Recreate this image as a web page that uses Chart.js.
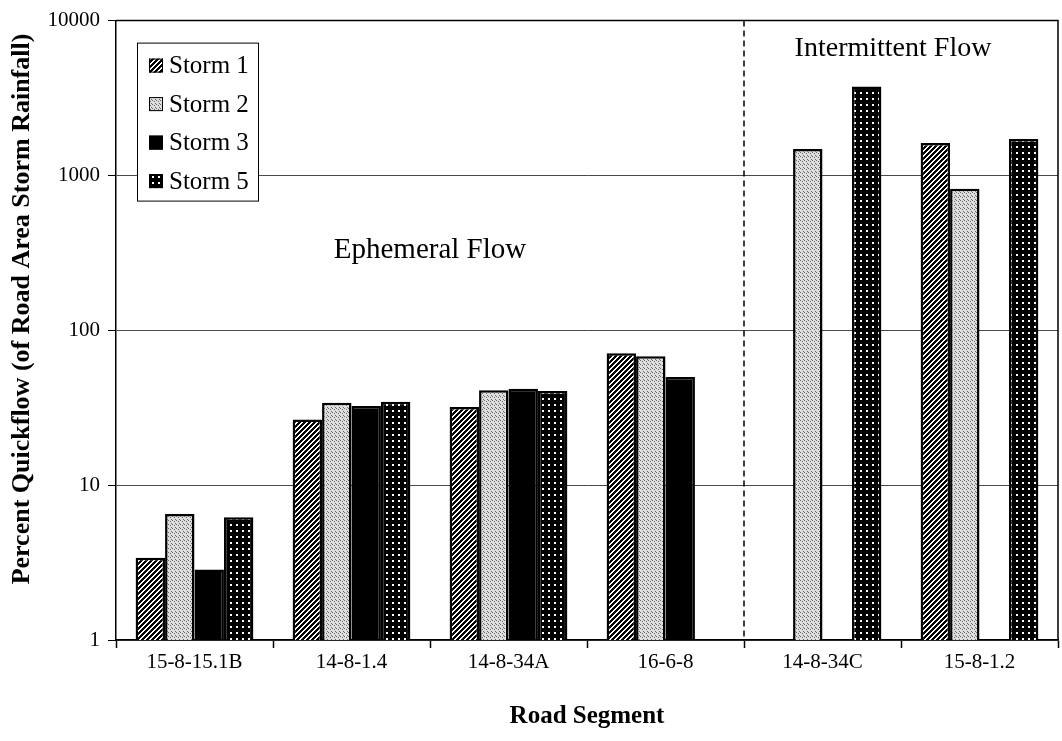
<!DOCTYPE html>
<html>
<head>
<meta charset="utf-8">
<script src="https://cdn.jsdelivr.net/npm/chart.js@4/dist/chart.umd.min.js"></script>
<style>
  html, body { margin: 0; padding: 0; background: #fff; }
  #wrap { width: 1062px; height: 741px; }
</style>
</head>
<body>
<div id="wrap"><canvas id="chart" width="1062" height="741"></canvas></div>
<script>
// Road segments and percent quickflow per storm (log scale)
const segments = ["15-8-15.1B", "14-8-1.4", "14-8-34A", "16-6-8", "14-8-34C", "15-8-1.2"];
const storm1 = [3.4, 26.5, 32, 71, null, 1620];
const storm2 = [6.5, 34, 41, 68, 1480, 820];
const storm3 = [2.85, 32.5, 42, 50, null, null];
const storm5 = [6.2, 34.5, 40.5, null, 3750, 1720];
const yTicks = [1, 10, 100, 1000, 10000];

const serif = "'Liberation Serif', 'Times New Roman', serif";

// small tiled fills for the bars
function makeTile(size, draw) {
  const c = document.createElement("canvas");
  c.width = size; c.height = size;
  const g = c.getContext("2d");
  draw(g, size);
  return document.createElement("canvas").getContext("2d").createPattern(c, "repeat");
}

const hatch = makeTile(5, (g, s) => {
  g.fillStyle = "#000"; g.fillRect(0, 0, s, s);
  g.fillStyle = "#fff";
  for (let i = 0; i < s; i++) {
    g.fillRect(i, s - 1 - i, 1, 1);
    g.fillRect(i, (2 * s - 2 - i) % s, 1, 1);
  }
});
const stipple = makeTile(4, (g, s) => {
  g.fillStyle = "#dedede"; g.fillRect(0, 0, s, s);
  g.fillStyle = "#6a6a6a";
  g.fillRect(0, 0, 1, 1); g.fillRect(2, 1, 1, 1); g.fillRect(3, 3, 1, 1);
});
const dots = makeTile(6, (g, s) => {
  g.fillStyle = "#000"; g.fillRect(0, 0, s, s);
  g.fillStyle = "#fff"; g.fillRect(2, 2, 2, 2);
});

const fills = [hatch, stipple, "#000", dots];
const names = ["Storm 1", "Storm 2", "Storm 3", "Storm 5"];
const series = [storm1, storm2, storm3, storm5];

// legend box, dashed divider, y title and flow-regime labels
const extras = {
  id: "extras",
  afterDatasetsDraw(chart) {
    const { ctx, chartArea: a, scales: { x, y } } = chart;
    ctx.save();

    // frame top and right
    ctx.strokeStyle = "#000";
    ctx.lineWidth = 1.5;
    ctx.beginPath();
    ctx.moveTo(a.left, a.top); ctx.lineTo(a.right, a.top); ctx.lineTo(a.right, a.bottom);
    ctx.stroke();

    // dashed divider between ephemeral and intermittent segments
    const xd = (x.getPixelForValue(3) + x.getPixelForValue(4)) / 2;
    ctx.setLineDash([6, 4]);
    ctx.lineWidth = 1.5;
    ctx.beginPath(); ctx.moveTo(xd, a.top); ctx.lineTo(xd, a.bottom); ctx.stroke();
    ctx.setLineDash([]);

    ctx.fillStyle = "#000";
    ctx.font = "29px " + serif;
    ctx.textAlign = "center";
    ctx.textBaseline = "middle";
    ctx.fillText("Ephemeral Flow", (x.getPixelForValue(1) + x.getPixelForValue(2)) / 2, y.getPixelForValue(330));
    ctx.font = "28px " + serif;
    ctx.fillText("Intermittent Flow", (x.getPixelForValue(4) + x.getPixelForValue(5)) / 2 - 8, a.top + 28);

    // y axis title
    ctx.save();
    ctx.translate(22, 309);
    ctx.rotate(-Math.PI / 2);
    ctx.font = "bold 26px " + serif;
    ctx.fillText("Percent Quickflow (of Road Area Storm Rainfall)", 0, 0);
    ctx.restore();

    // legend
    const lx = a.left + 21, ly = a.top + 22, lw = 121, lh = 158;
    ctx.fillStyle = "#fff";
    ctx.fillRect(lx, ly, lw, lh);
    ctx.strokeStyle = "#000";
    ctx.lineWidth = 1;
    ctx.strokeRect(lx + 0.5, ly + 0.5, lw, lh);
    ctx.font = "25px " + serif;
    ctx.textAlign = "left";
    names.forEach((n, i) => {
      const cy = ly + 23 + i * 38.5;
      ctx.fillStyle = fills[i];
      ctx.fillRect(lx + 12, cy - 7, 14, 14);
      ctx.strokeRect(lx + 12.5, cy - 6.5, 13, 13);
      ctx.fillStyle = "#000";
      ctx.fillText(n, lx + 32, cy + 1);
    });
    ctx.restore();
  }
};

new Chart(document.getElementById("chart"), {
  type: "bar",
  data: {
    labels: segments,
    datasets: series.map((d, i) => ({
      label: names[i],
      data: d,
      backgroundColor: fills[i],
      borderColor: "#000",
      borderWidth: 2.5,
      borderSkipped: "bottom",
      categoryPercentage: 0.75,
      barPercentage: 1.0
    }))
  },
  options: {
    responsive: false,
    animation: false,
    layout: { padding: { top: 19, right: 4, left: 0, bottom: 0 } },
    plugins: { legend: { display: false }, tooltip: { enabled: false } },
    scales: {
      x: {
        afterFit(s) { s.height = 101; },
        grid: { offset: true, drawOnChartArea: false, tickLength: 8, tickColor: "#000", tickWidth: 1.5 },
        border: { color: "#000", width: 1.5 },
        ticks: { color: "#000", font: { family: serif, size: 21 }, padding: 2 },
        title: {
          display: true, text: "Road Segment", color: "#000",
          font: { family: serif, size: 25, weight: "bold" },
          padding: { top: 0, bottom: 9 }
        }
      },
      y: {
        type: "logarithmic",
        min: 1, max: 10000,
        afterFit(s) { s.width = 116; },
        afterBuildTicks(s) { s.ticks = yTicks.map(v => ({ value: v })); },
        grid: { color: "#4a4a4a", lineWidth: 1, tickLength: 8, tickColor: "#000" },
        border: { color: "#000", width: 1.5 },
        ticks: {
          color: "#000", font: { family: serif, size: 21 }, padding: 8,
          callback: v => String(v)
        }
      }
    }
  },
  plugins: [extras]
});
</script>
</body>
</html>
